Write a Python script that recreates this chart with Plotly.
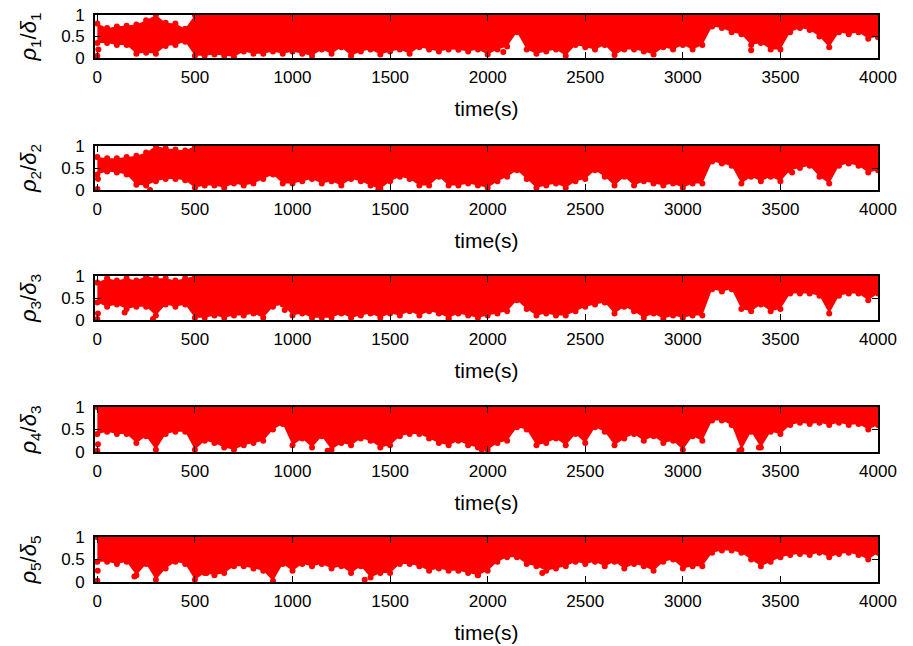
import plotly.graph_objects as go

# ---------------- data ----------------
t = list(range(0, 4001, 50))  # time(s), 81 samples

p1_hi = [0.80, 0.70, 0.73, 0.75, 0.78, 0.88, 1.00, 0.82, 0.80, 0.68] + [1.0] * 71
p1_lo = [0.35, 0.35, 0.30, 0.30, 0.10, 0.12, 0.10, 0.28, 0.30, 0.38,
         0.05, 0.05, 0.08, 0.05, 0.03, 0.15, 0.10, 0.10, 0.15, 0.10,
         0.15, 0.10, 0.05, 0.20, 0.10, 0.25, 0.05, 0.15, 0.20, 0.08,
         0.15, 0.20, 0.10, 0.25, 0.20, 0.15, 0.20, 0.19, 0.15, 0.20,
         0.08, 0.20, 0.27, 0.60, 0.20, 0.10, 0.15, 0.20, 0.05, 0.30,
         0.25, 0.20, 0.30, 0.07, 0.20, 0.20, 0.15, 0.08, 0.25, 0.20,
         0.30, 0.20, 0.30, 0.73, 0.70, 0.60, 0.55, 0.30, 0.35, 0.20,
         0.20, 0.60, 0.70, 0.65, 0.50, 0.25, 0.60, 0.55, 0.60, 0.45,
         0.50]

p2_hi = [0.75, 0.72, 0.72, 0.75, 0.78, 0.85, 1.00, 0.95, 0.92, 0.90] + [1.0] * 71
p2_lo = [0.35, 0.42, 0.40, 0.35, 0.12, 0.10, 0.20, 0.25, 0.25, 0.22,
         0.05, 0.10, 0.10, 0.05, 0.15, 0.10, 0.15, 0.25, 0.35, 0.15,
         0.15, 0.20, 0.25, 0.15, 0.20, 0.10, 0.25, 0.20, 0.10, 0.02,
         0.20, 0.30, 0.25, 0.10, 0.10, 0.30, 0.10, 0.10, 0.15, 0.10,
         0.05, 0.20, 0.30, 0.45, 0.25, 0.05, 0.10, 0.15, 0.05, 0.20,
         0.25, 0.45, 0.30, 0.10, 0.30, 0.10, 0.20, 0.15, 0.10, 0.15,
         0.05, 0.15, 0.15, 0.65, 0.60, 0.55, 0.15, 0.30, 0.20, 0.30,
         0.20, 0.45, 0.50, 0.55, 0.30, 0.15, 0.55, 0.60, 0.55, 0.40,
         0.45]

p3_hi = [0.85, 0.95, 0.90, 0.95, 0.90, 1.00, 0.95, 0.95, 0.90, 0.95] + [1.0] * 71
p3_lo = [0.40, 0.30, 0.35, 0.25, 0.30, 0.30, 0.10, 0.35, 0.30, 0.35,
         0.05, 0.05, 0.10, 0.05, 0.10, 0.10, 0.15, 0.05, 0.30, 0.35,
         0.10, 0.15, 0.05, 0.05, 0.05, 0.15, 0.05, 0.10, 0.15, 0.05,
         0.15, 0.10, 0.20, 0.10, 0.20, 0.15, 0.05, 0.15, 0.10, 0.05,
         0.10, 0.15, 0.20, 0.45, 0.25, 0.10, 0.15, 0.10, 0.10, 0.20,
         0.30, 0.35, 0.40, 0.15, 0.30, 0.20, 0.05, 0.15, 0.03, 0.10,
         0.05, 0.10, 0.10, 0.70, 0.65, 0.70, 0.25, 0.20, 0.35, 0.20,
         0.25, 0.60, 0.60, 0.60, 0.55, 0.15, 0.55, 0.60, 0.60, 0.45,
         0.60]

p4_hi = [1.0] * 81
p4_lo = [0.40, 0.45, 0.40, 0.40, 0.20, 0.35, 0.05, 0.40, 0.45, 0.45,
         0.05, 0.25, 0.20, 0.10, 0.05, 0.15, 0.20, 0.25, 0.50, 0.62,
         0.15, 0.30, 0.10, 0.35, 0.05, 0.20, 0.15, 0.30, 0.25, 0.10,
         0.15, 0.35, 0.40, 0.40, 0.30, 0.20, 0.15, 0.25, 0.15, 0.10,
         0.05, 0.20, 0.25, 0.55, 0.50, 0.15, 0.20, 0.30, 0.15, 0.40,
         0.20, 0.55, 0.45, 0.15, 0.30, 0.40, 0.25, 0.35, 0.20, 0.25,
         0.05, 0.35, 0.25, 0.70, 0.70, 0.60, 0.05, 0.45, 0.10, 0.45,
         0.40, 0.60, 0.65, 0.62, 0.65, 0.60, 0.65, 0.60, 0.62, 0.50,
         0.60]

p5_hi = [1.0] * 81
p5_lo = [0.45, 0.45, 0.40, 0.45, 0.15, 0.40, 0.05, 0.30, 0.45, 0.40,
         0.05, 0.20, 0.15, 0.20, 0.35, 0.35, 0.30, 0.25, 0.02, 0.40,
         0.25, 0.40, 0.35, 0.40, 0.30, 0.35, 0.20, 0.35, 0.10, 0.20,
         0.20, 0.40, 0.40, 0.35, 0.25, 0.30, 0.25, 0.25, 0.20, 0.15,
         0.25, 0.45, 0.55, 0.55, 0.40, 0.35, 0.25, 0.30, 0.35, 0.45,
         0.40, 0.45, 0.35, 0.45, 0.30, 0.40, 0.35, 0.25, 0.45, 0.50,
         0.30, 0.35, 0.35, 0.65, 0.70, 0.70, 0.65, 0.50, 0.35, 0.45,
         0.55, 0.60, 0.62, 0.60, 0.65, 0.55, 0.62, 0.65, 0.60, 0.50,
         0.65]

# isolated points below the dense band
p1_out_t = [0, 5, 2080, 2950, 3350, 4000]
p1_out_v = [0.05, 0.20, 0.14, 0.23, 0.18, 0.48]
p2_out_t = [0, 3, 270, 1440, 3560]
p2_out_v = [0.02, 0.25, 0.00, 0.02, 0.40]
p3_out_t = [0, 3, 140, 285, 960, 1800]
p3_out_v = [0.02, 0.15, 0.17, 0.02, 0.23, 0.02]
p4_out_t = [0, 3, 1180, 1970, 3290, 3390]
p4_out_v = [0.03, 0.17, 0.03, 0.05, 0.03, 0.10]
p5_out_t = [0, 2, 190, 560, 1370, 1950, 2280]
p5_out_v = [0.03, 0.25, 0.12, 0.20, 0.05, 0.15, 0.20]

y_titles = ["<i>ρ</i><sub>1</sub>/<i>δ</i><sub>1</sub>",
            "<i>ρ</i><sub>2</sub>/<i>δ</i><sub>2</sub>",
            "<i>ρ</i><sub>3</sub>/<i>δ</i><sub>3</sub>",
            "<i>ρ</i><sub>4</sub>/<i>δ</i><sub>3</sub>",
            "<i>ρ</i><sub>5</sub>/<i>δ</i><sub>5</sub>"]
x_title = "time(s)"
x_ticks = [0, 500, 1000, 1500, 2000, 2500, 3000, 3500, 4000]
y_ticks = [0, 0.5, 1]
y_ticktext = ["0", "0.5", "1"]

panels = [(p1_lo, p1_hi, p1_out_t, p1_out_v),
          (p2_lo, p2_hi, p2_out_t, p2_out_v),
          (p3_lo, p3_hi, p3_out_t, p3_out_v),
          (p4_lo, p4_hi, p4_out_t, p4_out_v),
          (p5_lo, p5_hi, p5_out_t, p5_out_v)]

# ---------------- figure ----------------
W, H = 913, 646
tops = [15, 146, 276, 407, 537]
bots = [58, 190, 320, 452, 582]
RED = "#ff0000"
FONT = "Liberation Sans, Arial, sans-serif"

fig = go.Figure()
layout = dict(width=W, height=H, margin=dict(l=0, r=0, t=0, b=0, autoexpand=False),
              paper_bgcolor="white", plot_bgcolor="white", showlegend=False,
              font=dict(family=FONT, color="black"))

for i, (lo, hi, ot, ov) in enumerate(panels):
    n = i + 1
    xa = "x" if n == 1 else f"x{n}"
    ya = "y" if n == 1 else f"y{n}"
    fig.add_trace(go.Scatter(x=t, y=hi, mode="lines", line=dict(width=0, color=RED),
                             xaxis=xa, yaxis=ya, hoverinfo="skip"))
    fig.add_trace(go.Scatter(x=t, y=lo, mode="lines", line=dict(width=0, color=RED),
                             fill="tonexty", fillcolor=RED, xaxis=xa, yaxis=ya))
    fig.add_trace(go.Scatter(x=t + t, y=lo + hi, mode="markers",
                             marker=dict(size=6, color=RED), xaxis=xa, yaxis=ya))
    fig.add_trace(go.Scatter(x=ot, y=ov, mode="markers",
                             marker=dict(size=6, color=RED), xaxis=xa, yaxis=ya))

    kx = "xaxis" if n == 1 else f"xaxis{n}"
    ky = "yaxis" if n == 1 else f"yaxis{n}"
    layout[kx] = dict(domain=[95 / W, 878 / W], anchor=ya, range=[-12, 4000],
                      tickvals=x_ticks, ticks="inside", ticklen=6, tickwidth=1.3,
                      tickcolor="black", showline=True, linecolor="black", linewidth=1.6,
                      mirror="ticks", showgrid=False, zeroline=False, automargin=False,
                      tickfont=dict(size=17, family=FONT), ticklabelstandoff=3,
                      title=dict(text=x_title, font=dict(size=21, family=FONT), standoff=15))
    layout[ky] = dict(domain=[1 - bots[i] / H, 1 - tops[i] / H], anchor=xa, range=[0, 1],
                      tickvals=y_ticks, ticktext=y_ticktext, ticks="inside", ticklen=6,
                      tickwidth=1.3, tickcolor="black", showline=True, linecolor="black",
                      linewidth=1.6, mirror="ticks", showgrid=False, zeroline=False,
                      automargin=False,
                      tickfont=dict(size=17, family=FONT), ticklabelstandoff=5,
                      title=dict(text=y_titles[i], font=dict(size=22, family=FONT), standoff=18))

fig.update_layout(**layout)
fig.write_html("out.html")
